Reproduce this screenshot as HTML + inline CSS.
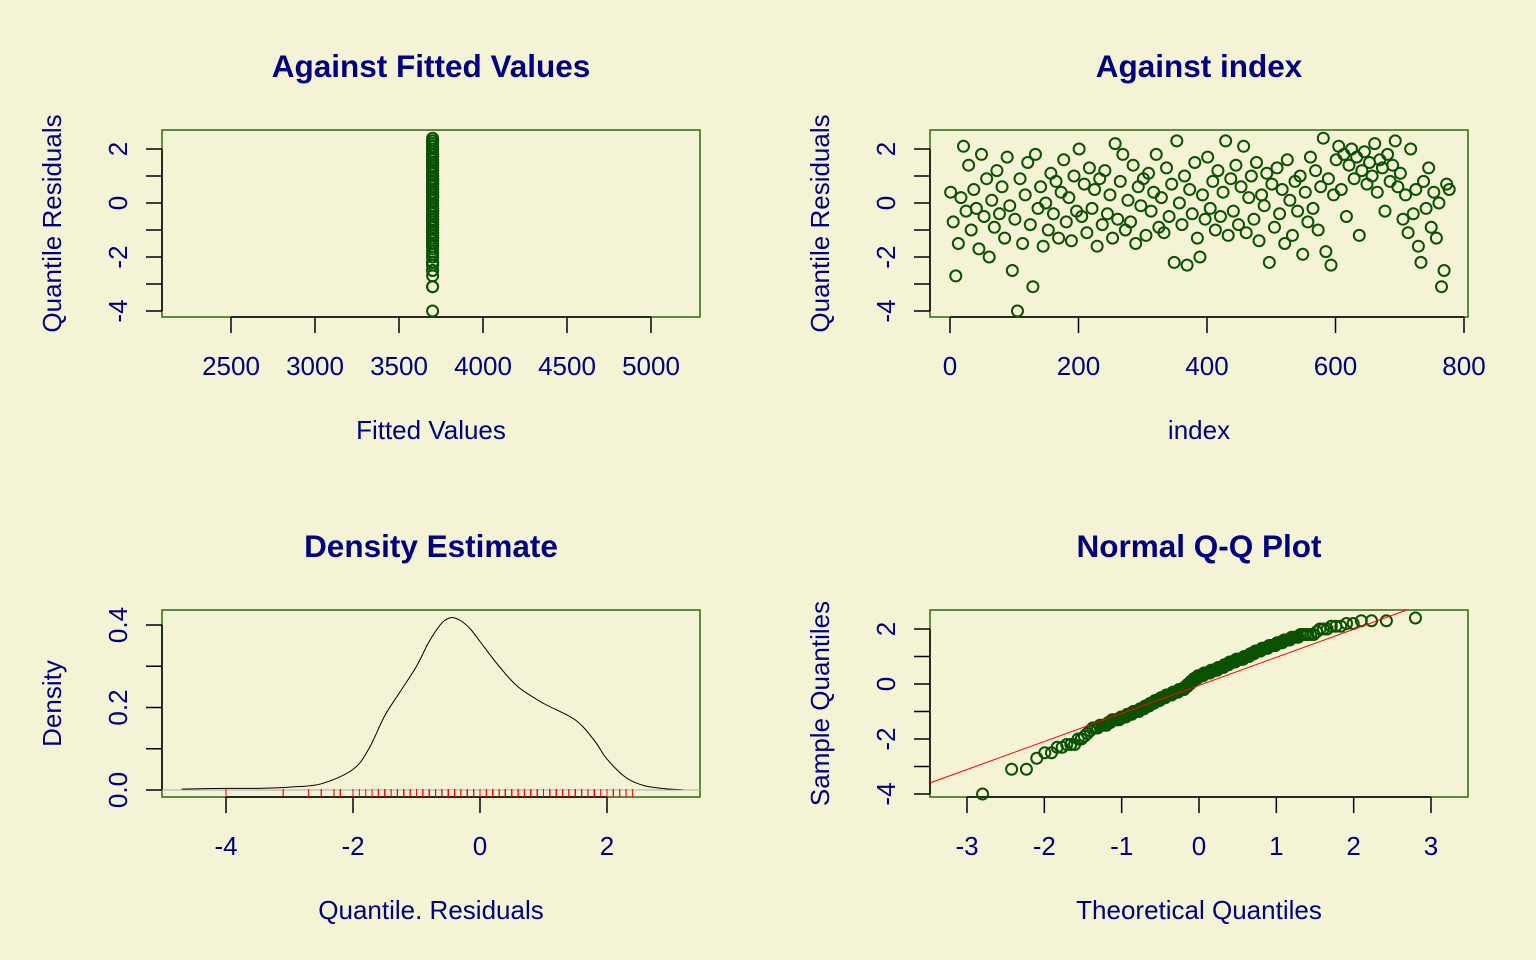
<!DOCTYPE html>
<html><head><meta charset="utf-8"><style>
html,body{margin:0;padding:0;background:#f5f3d6;}
svg{display:block;font-family:"Liberation Sans",Arial,sans-serif;}
</style></head><body>
<svg id="s" width="1536" height="960" viewBox="0 0 1536 960"></svg>
<script>
// residuals (sampled every 4th observation)
const residuals=[0.4,-0.7,-2.7,-1.5,0.2,2.1,-0.3,1.4,-1.0,0.5,-0.2,-1.7,1.8,-0.5,0.9,-2.0,0.1,-0.9,1.2,-0.4,0.6,-1.3,1.7,-0.1,-2.5,
-0.6,-4.0,0.9,-1.5,0.3,1.5,-0.8,-3.1,1.8,-0.2,0.6,-1.6,0.0,-1.0,1.1,-0.4,0.8,-1.3,0.4,1.6,-0.7,0.2,-1.4,1.0,-0.3,
2.0,-0.5,0.7,-1.1,1.3,-0.2,0.5,-1.6,0.9,-0.8,1.2,-0.4,0.3,-1.3,2.2,-0.6,0.8,1.8,-1.0,0.1,-0.7,1.4,-1.5,0.6,-0.1,
0.9,-1.2,1.1,-0.3,0.4,1.8,-0.9,0.2,-1.1,1.3,-0.5,0.7,-2.2,2.3,0.0,-0.8,1.0,-2.3,0.5,-0.4,1.5,-1.3,-2.0,0.3,-0.6,
1.7,-0.2,0.8,-1.0,1.2,-0.5,0.4,2.3,-1.2,0.9,-0.3,1.4,-0.8,0.6,2.1,-1.1,0.2,1.0,-0.6,1.5,-1.4,0.3,-0.1,1.1,-2.2,
0.7,-0.9,1.3,-0.4,0.5,-1.5,1.6,0.1,-1.2,0.8,-0.3,1.0,-1.9,0.4,-0.7,1.7,-0.2,1.2,-1.0,0.6,2.4,-1.8,0.9,-2.3,0.3,
1.6,2.1,0.5,1.8,-0.5,1.4,2.0,0.9,1.7,-1.2,1.2,1.9,0.7,1.5,1.0,2.2,0.4,1.6,1.3,-0.3,1.8,0.8,1.4,2.3,0.6,
1.1,-0.6,0.3,-1.1,2.0,-0.4,0.5,-1.6,-2.2,0.8,-0.2,1.3,-0.9,0.4,-1.3,0.0,-3.1,-2.5,0.7,0.5];
const fittedValue=3700;
const indexStep=4;
const densX=[-4.7,-4.0,-3.5,-3.0,-2.5,-2.0,-1.75,-1.5,-1.25,-1.0,-0.8,-0.6,-0.45,-0.3,-0.15,0.0,0.3,0.6,1.0,1.5,1.8,2.0,2.3,2.6,3.0,3.2];
const densY=[0.002,0.004,0.004,0.007,0.015,0.05,0.1,0.18,0.24,0.3,0.36,0.405,0.418,0.41,0.39,0.36,0.3,0.25,0.21,0.17,0.12,0.075,0.03,0.01,0.002,0.001];
const qqLineSlope=[1.02], qqLineIntercept=[-0.05];
const yTicksRes=[-4,-3,-2,-1,0,1,2], yLabRes=[-4,-2,0,2];
const xTicksFit=[2500,3000,3500,4000,4500,5000];
const xTicksIdx=[0,200,400,600,800];
const xTicksDen=[-4,-2,0,2], yTicksDen=[0,0.1,0.2,0.3,0.4], yLabDen=["0.0","0.2","0.4"];
const xTicksQQ=[-3,-2,-1,0,1,2,3];

const S=document.getElementById('s');
const NS='http://www.w3.org/2000/svg';
function mk(t,a,p){const e=document.createElementNS(NS,t);for(const k in a)e.setAttribute(k,a[k]);(p||S).appendChild(e);return e;}
function lin(d0,d1,r0,r1){return v=>r0+(v-d0)*(r1-r0)/(d1-d0);}
const NAVY='#000080',GREEN='#0a5200';

function panel(id,b,xs,ys,xt,xl,yt,yl,title,xtitle,ytitle){
  const g=mk('g',{});
  
  
  const t=mk('text',{x:(b.x0+b.x1)/2,y:b.y0-53,'text-anchor':'middle','font-size':31.5,'font-weight':'bold',fill:NAVY},g);
  t.textContent=title;
  
  
  const r=mk('rect',{x:b.x0,y:b.y0,width:b.x1-b.x0,height:b.y1-b.y0,fill:'none',stroke:'#2d6a12','stroke-width':1.5},g);
  
  
  const ax=mk('g',{},g);
  
  
  mk('line',{x1:xs(xt[0]),x2:xs(xt[xt.length-1]),y1:b.y1,y2:b.y1,stroke:'#000','stroke-width':1.5},ax);
  xt.forEach((v,i)=>{mk('line',{x1:xs(v),x2:xs(v),y1:b.y1,y2:b.y1+16,stroke:'#000','stroke-width':1.5},ax);
    const l=mk('text',{x:xs(v),y:b.y1+58,'text-anchor':'middle','font-size':26,fill:NAVY},ax);l.textContent=xl[i];});
  const ay=mk('g',{},g);
  
  
  mk('line',{x1:b.x0,x2:b.x0,y1:ys(yt[0]),y2:ys(yt[yt.length-1]),stroke:'#000','stroke-width':1.5},ay);
  yt.forEach(v=>mk('line',{x1:b.x0-16,x2:b.x0,y1:ys(v),y2:ys(v),stroke:'#000','stroke-width':1.5},ay));
  yl.forEach(v=>{const y=ys(parseFloat(v));const l=mk('text',{x:0,y:0,transform:`translate(${b.x0-35},${y}) rotate(-90)`,'text-anchor':'middle','font-size':26,fill:NAVY},ay);l.textContent=v;});
  const xtl=mk('text',{x:(b.x0+b.x1)/2,y:b.y1+122,'text-anchor':'middle','font-size':26,fill:NAVY},g);xtl.textContent=xtitle;
  
  
  const ytl=mk('text',{x:0,y:0,transform:`translate(${b.x0-101},${(b.y0+b.y1)/2}) rotate(-90)`,'text-anchor':'middle','font-size':26,fill:NAVY},g);ytl.textContent=ytitle;
  
  
  return g;
}
function pt(g,x,y){const c=mk('circle',{cx:x,cy:y,r:5.5,fill:'none',stroke:GREEN,'stroke-width':2},g);
  
  }

// Panel 1
{const b={x0:162,x1:700,y0:130,y1:317};
 const xs=lin(2500,5000,231,651), ys=lin(0,2,203,149);
 const g=panel('fitted-panel',b,xs,ys,xTicksFit,xTicksFit.map(String),yTicksRes,yLabRes.map(String),'Against Fitted Values','Fitted Values','Quantile Residuals');
 residuals.forEach(v=>pt(g,xs(fittedValue),ys(v)));}
// Panel 2
{const b={x0:930,x1:1468,y0:130,y1:317};
 const xs=lin(0,800,950,1464), ys=lin(0,2,203,149);
 const g=panel('index-panel',b,xs,ys,xTicksIdx,xTicksIdx.map(String),yTicksRes,yLabRes.map(String),'Against  index','index','Quantile Residuals');
 residuals.forEach((v,i)=>pt(g,xs(i*indexStep+1),ys(v)));}
// Panel 3
{const b={x0:162,x1:700,y0:610,y1:797};
 const xs=lin(-4,2,226,607), ys=lin(0,0.4,790,625);
 const g=panel('density-panel',b,xs,ys,xTicksDen,xTicksDen.map(String),yTicksDen,yLabDen,'Density Estimate','Quantile. Residuals','Density');
 const P=densX.map((x,i)=>[xs(x),ys(densY[i])]);
 let d='M'+P[0][0]+','+P[0][1];
 for(let i=0;i<P.length-1;i++){const p0=P[Math.max(0,i-1)],p1=P[i],p2=P[i+1],p3=P[Math.min(P.length-1,i+2)];
  d+=`C${p1[0]+(p2[0]-p0[0])/6},${p1[1]+(p2[1]-p0[1])/6} ${p2[0]-(p3[0]-p1[0])/6},${p2[1]-(p3[1]-p1[1])/6} ${p2[0]},${p2[1]}`;}
 const p=mk('path',{d:d,fill:'none',stroke:'#000','stroke-width':1},g);
 
 
 mk('line',{x1:b.x0,x2:b.x1,y1:ys(0),y2:ys(0),stroke:'#aaa','stroke-width':1},g);
 residuals.forEach(v=>{const l=mk('line',{x1:xs(v),x2:xs(v),y1:b.y1,y2:b.y1-8,stroke:'#f00','stroke-width':1},g);
  
  });}
// Panel 4
function qnorm(p){const a=[-39.6968302866538,220.946098424521,-275.928510446969,138.357751867269,-30.6647980661472,2.50662827745924],
 b=[-54.4760987982241,161.585836858041,-155.698979859887,66.8013118877197,-13.2806815528857],
 c=[-0.00778489400243029,-0.322396458041136,-2.40075827716184,-2.54973253934373,4.37466414146497,2.93816398269878],
 d=[0.00778469570904146,0.32246712907004,2.445134137143,3.75440866190742];
 const pl=0.02425;let q,r;
 if(p<pl){q=Math.sqrt(-2*Math.log(p));return(((((c[0]*q+c[1])*q+c[2])*q+c[3])*q+c[4])*q+c[5])/((((d[0]*q+d[1])*q+d[2])*q+d[3])*q+1);}
 if(p>1-pl){q=Math.sqrt(-2*Math.log(1-p));return-(((((c[0]*q+c[1])*q+c[2])*q+c[3])*q+c[4])*q+c[5])/((((d[0]*q+d[1])*q+d[2])*q+d[3])*q+1);}
 q=p-0.5;r=q*q;return(((((a[0]*r+a[1])*r+a[2])*r+a[3])*r+a[4])*r+a[5])*q/(((((b[0]*r+b[1])*r+b[2])*r+b[3])*r+b[4])*r+1);}
{const b={x0:930,x1:1468,y0:610,y1:797};
 const xs=lin(-3,3,967,1431), ys=lin(0,2,684,629);
 const g=panel('qq-panel',b,xs,ys,xTicksQQ,xTicksQQ.map(String),yTicksRes,yLabRes.map(String),'Normal Q-Q Plot','Theoretical Quantiles','Sample Quantiles');
 const n=residuals.length, sorted=residuals.slice().sort((a,b)=>a-b);
 const th=sorted.map((v,i)=>qnorm((i+0.5)/n));
 const cl=mk('clipPath',{id:'qc'},g);mk('rect',{x:b.x0,y:b.y0,width:b.x1-b.x0,height:b.y1-b.y0},cl);
 sorted.forEach((v,i)=>pt(g,xs(th[i]),ys(v)));
 const sl=qqLineSlope[0], ic=qqLineIntercept[0];
 const L=mk('line',{x1:xs(-4),y1:ys(ic-4*sl),x2:xs(4),y2:ys(ic+4*sl),stroke:'#f00','stroke-width':1,'clip-path':'url(#qc)'},g);
 
 }
</script>
</body></html>
